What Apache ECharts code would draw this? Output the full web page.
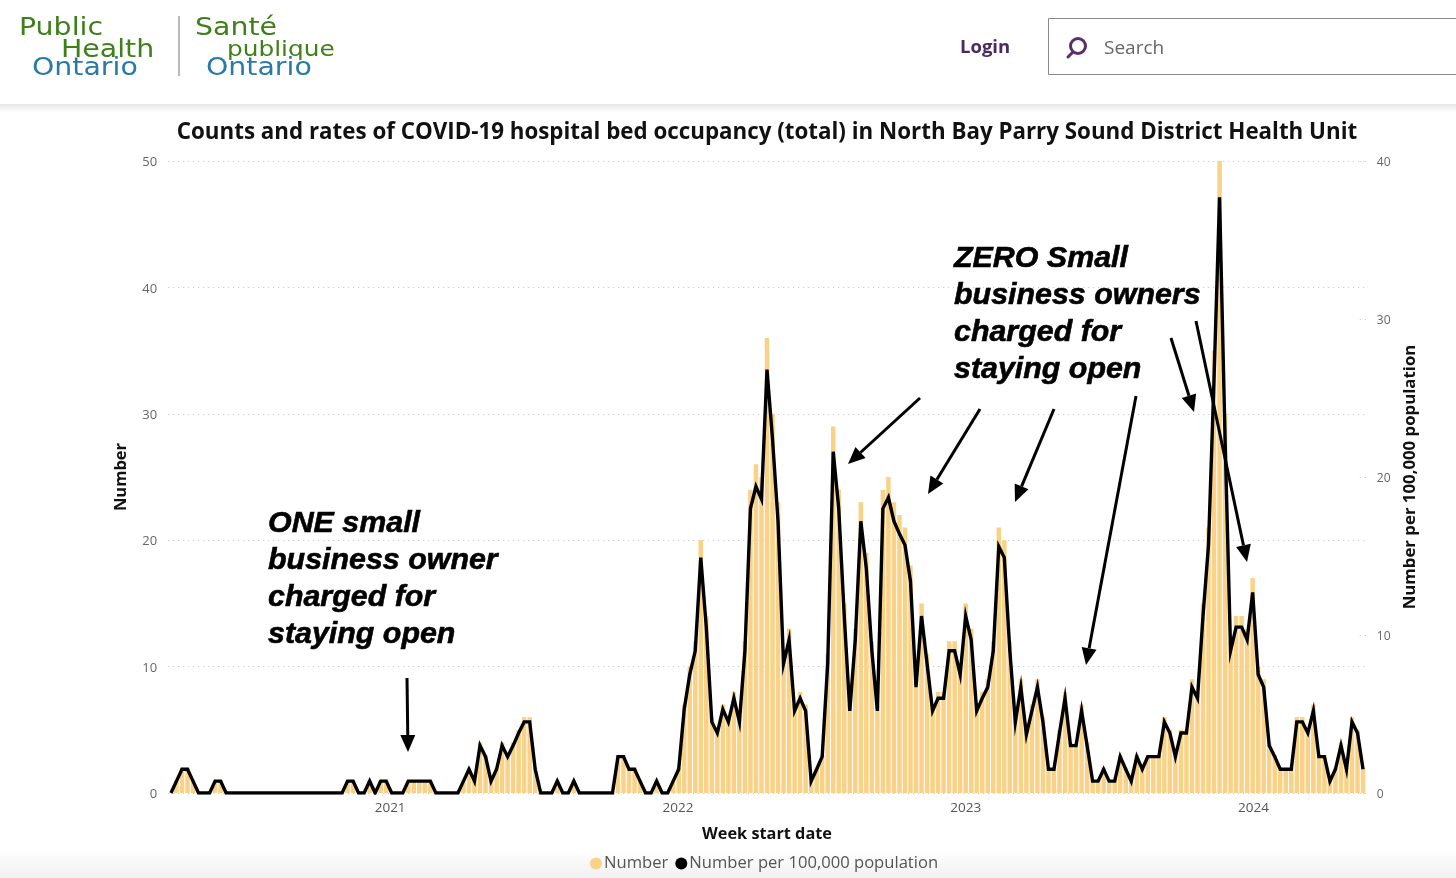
<!DOCTYPE html>
<html>
<head>
<meta charset="utf-8">
<style>html,body{margin:0;padding:0;background:#fff}#c{width:1456px;height:878px}</style>
<script src="https://cdn.jsdelivr.net/npm/echarts@6/dist/echarts.min.js"></script>
</head>
<body>
<div id="c"></div>
<script>
const chartTitle = 'Counts and rates of COVID-19 hospital bed occupancy (total) in North Bay Parry Sound District Health Unit';
const firstWeek = '2020-03-29';
const yearTicks = ['2021-01-01','2022-01-01','2023-01-01','2024-01-01'];
const numberValues = [
0,1,2,2,1,0,0,0,1,1, 0,0,0,0,0,0,0,0,0,0, 0,0,0,0,0,0,0,0,0,0,
0,0,1,1,0,0,1,0,1,1, 0,0,0,1,1,1,1,1,0,0, 0,0,0,1,2,1,4,3,1,2,
4,3,4,5,6,6,2,0,0,0, 1,0,0,1,0,0,0,0,0,0, 0,3,3,2,2,1,0,0,1,0,
0,1,2,7,10,12,20,14,6,5, 7,6,8,6,12,24,26,25,36,30, 23,11,13,7,8,7,1,2,3,11,
29,24,15,7,13,23,19,12,7,24, 25,23,22,21,18,9,15,11,7,8, 8,12,12,10,15,13,7,8,9,12,
21,20,12,6,9,5,7,9,6,2, 2,5,8,4,4,7,4,1,1,2, 1,1,3,2,1,3,2,3,3,3,
6,5,3,5,5,9,8,15,21,35, 50,30,12,14,14,13,17,10,9,4, 3,2,2,2,6,6,5,7,3,3,
1,2,4,2,6,5,2];
const ratePer100k = [
0,.75,1.5,1.5,.75,0,0,0,.75,.75, 0,0,0,0,0,0,0,0,0,0, 0,0,0,0,0,0,0,0,0,0,
0,0,.75,.75,0,0,.75,0,.75,.75, 0,0,0,.75,.75,.75,.75,.75,0,0, 0,0,0,.75,1.5,.75,3,2.3,.75,1.5,
3,2.3,3,3.8,4.5,4.5,1.5,0,0,0, .75,0,0,.75,0,0,0,0,0,0, 0,2.3,2.3,1.5,1.5,.75,0,0,.75,0,
0,.75,1.5,5.3,7.5,9,14.9,10.5,4.5,3.8, 5.3,4.5,6,4.5,9,18,19.4,18.6,26.8,22.4, 17.2,8.2,9.7,5.2,6,5.2,.75,1.5,2.3,8.2,
21.6,18,11.2,5.2,9.7,17.2,14.2,9,5.2,18, 18.7,17.2,16.4,15.7,13.4,6.7,11.2,8.2,5.2,6, 6,9,9,7.5,11.2,9.7,5.2,6,6.7,9,
15.6,14.9,9,4.5,6.7,3.7,5.2,6.7,4.5,1.5, 1.5,3.8,6,3,3,5.2,3,.75,.75,1.5, .75,.75,2.3,1.5,.75,2.3,1.5,2.3,2.3,2.3,
4.5,3.8,2.3,3.8,3.8,6.7,6,11.2,15.7,26.2, 37.7,22.4,9,10.5,10.5,9.7,12.7,7.5,6.7,3, 2.3,1.5,1.5,1.5,4.5,4.5,3.8,5.2,2.3,2.3,
.75,1.5,3,1.5,4.5,3.8,1.5];
const leftNoteLines = 'ONE small\nbusiness owner\ncharged for\nstaying open';
const rightNoteLines = 'ZERO Small\nbusiness owners\ncharged for\nstaying open';

const DAY = 86400000;
const t0 = Date.parse(firstWeek + 'T00:00:00');
const weeks = numberValues.map((_, i) => t0 + i * 7 * DAY);
const barData = weeks.map((w, i) => [w, numberValues[i]]);
const lineData = weeks.map((w, i) => [w, ratePer100k[i]]);

function arrow(x1, y1, x2, y2) {
  const a = Math.atan2(y2 - y1, x2 - x1), L = 17, W = 7.5;
  const bx = x2 - L * Math.cos(a), by = y2 - L * Math.sin(a);
  const nx = -Math.sin(a), ny = Math.cos(a);
  return [
    {type:'line', z:100, shape:{x1, y1, x2:bx, y2:by}, style:{stroke:'#000', lineWidth:3}},
    {type:'polygon', z:100, shape:{points:[[x2,y2],[bx+nx*W,by+ny*W],[bx-nx*W,by-ny*W]]}, style:{fill:'#000'}}
  ];
}
function txt(x, y, text, font, fill, extra) {
  return {type:'text', z:100, x, y, style:Object.assign({text, font, fill, textVerticalAlign:'middle'}, extra || {})};
}
function logoTxt(x, y, text, font, fill) {
  return Object.assign(txt(x, y, text, font, fill), {scaleY:0.87});
}
const logoGreen = '#3f801a', logoBlue = '#2a7aa6', logoFont = '28.4px "DejaVu Sans"', logoSmall = '24.8px "DejaVu Sans"';
const noteFont = 'italic bold 30.4px "Liberation Sans"';
const noteStroke = {stroke:'#000', lineWidth:0.6, lineHeight:36.8};
const graphics = [
  {type:'rect', z:0, shape:{x:0,y:104,width:1456,height:8}, style:{fill:{type:'linear',x:0,y:0,x2:0,y2:1,colorStops:[{offset:0,color:'#e6e6e6'},{offset:1,color:'#ffffff'}]}}},
  {type:'rect', z:0, shape:{x:0,y:850,width:1456,height:28}, style:{fill:{type:'linear',x:0,y:0,x2:0,y2:1,colorStops:[{offset:0,color:'#ffffff'},{offset:1,color:'#f1f1f1'}]}}},
  logoTxt(19,29,'Public',logoFont,logoGreen), logoTxt(61,51,'Health',logoFont,logoGreen), logoTxt(32,69,'Ontario',logoFont,logoBlue),
  {type:'line', z:100, shape:{x1:179,y1:16,x2:179,y2:76}, style:{stroke:'#777',lineWidth:1}},
  logoTxt(195,29,'Santé',logoFont,logoGreen), logoTxt(227,50,'publique',logoSmall,logoGreen), logoTxt(206,69,'Ontario',logoFont,logoBlue),
  txt(960,48,'Login','bold 18.5px "Open Sans"','#4a2a60'),
  {type:'rect', z:100, shape:{x:1048.5,y:18.5,width:420,height:56}, style:{fill:'#fff',stroke:'#8a8a8a',lineWidth:1}},
  {type:'circle', z:101, shape:{cx:1078,cy:46,r:7.5}, style:{fill:'none',stroke:'#5a2d6e',lineWidth:3}},
  {type:'line', z:101, shape:{x1:1073,y1:52,x2:1068,y2:57}, style:{stroke:'#5a2d6e',lineWidth:3,lineCap:'round'}},
  txt(1104,49,'Search','19px "Open Sans"','#666'),
  txt(268,579,leftNoteLines,noteFont,'#000',noteStroke),
  txt(954,314,rightNoteLines,noteFont,'#000',noteStroke),
  ...arrow(407,678,408,752), ...arrow(920,398,848,464), ...arrow(980,409,928,494),
  ...arrow(1054,409,1015,502), ...arrow(1136,396,1086,665), ...arrow(1171,338,1194,412), ...arrow(1196,321,1247,562)
];

const chart = echarts.init(document.getElementById('c'), null, {renderer:'canvas'});
chart.setOption({
  animation:false,
  backgroundColor:'#fff',
  title:{text:chartTitle, left:762, textAlign:'center', top:117, textStyle:{fontFamily:'Open Sans', fontWeight:'bold', fontSize:22.35, color:'#111'}},
  legend:{top:850, left:585, itemWidth:12, itemHeight:12, itemGap:7,
    textStyle:{fontFamily:'Open Sans', fontSize:16.6, color:'#555', padding:[0,0,0,-3]},
    data:[{name:'Number', icon:'circle'},{name:'Number per 100,000 population', icon:'circle'}]},
  grid:{left:168.2, right:90.2, top:161, bottom:85},
  xAxis:{type:'value', min:t0-3.5*DAY, max:weeks[weeks.length-1]+3.5*DAY, scale:true,
    name:'Week start date', nameLocation:'middle', nameGap:33,
    nameTextStyle:{fontFamily:'Open Sans', fontWeight:'bold', fontSize:16.3, color:'#111'},
    axisLine:{show:false}, axisTick:{show:false}, splitLine:{show:false},
    axisLabel:{customValues:yearTicks.map(d=>Date.parse(d+'T00:00:00')), formatter:v=>String(new Date(v).getFullYear()),
      fontFamily:'Open Sans', fontSize:13.5, color:'#555', margin:8}},
  yAxis:[
    {type:'value', min:0, max:50, interval:10, name:'Number', nameLocation:'middle', nameGap:38,
      nameTextStyle:{fontFamily:'Open Sans', fontWeight:'bold', fontSize:16.5, color:'#111'},
      axisLine:{show:false}, axisTick:{show:false},
      axisLabel:{fontFamily:'Open Sans', fontSize:13, color:'#666', margin:11, verticalAlign:'top', lineHeight:3},
      splitLine:{show:true, lineStyle:{type:[1,4], color:'#c4c4c4', width:1}}},
    {type:'value', min:0, max:40, interval:10, position:'right', name:'Number per 100,000 population', nameLocation:'middle', nameGap:32,
      nameRotate:90,
      nameTextStyle:{fontFamily:'Open Sans', fontWeight:'bold', fontSize:16.8, color:'#111'},
      axisLine:{show:false},
      axisTick:{show:true, inside:true, length:8, lineStyle:{type:[1,4], color:'#c4c4c4', width:1}},
      axisLabel:{fontFamily:'Open Sans', fontSize:12, color:'#666', margin:11, verticalAlign:'top', lineHeight:4},
      splitLine:{show:false}}
  ],
  series:[
    {name:'Number', type:'bar', yAxisIndex:0, data:barData, barWidth:4.5, itemStyle:{color:'#f9d187'}, z:2},
    {name:'Number per 100,000 population', type:'line', yAxisIndex:1, data:lineData, showSymbol:false, symbol:'circle',
      lineStyle:{color:'#000', width:3.4, join:'miter'}, itemStyle:{color:'#000'}, z:3}
  ],
  graphic:graphics
});
</script>
</body>
</html>
